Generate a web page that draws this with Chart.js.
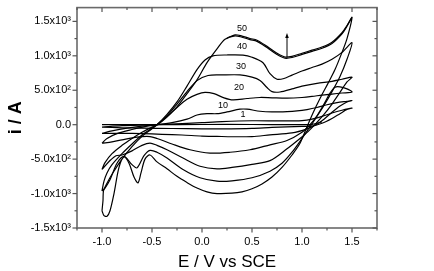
<!DOCTYPE html>
<html><head><meta charset="utf-8">
<script src="https://cdn.jsdelivr.net/npm/chart.js@4.4.1/dist/chart.umd.min.js"></script>
<style>html,body{margin:0;padding:0;background:#fff;}canvas{display:block;}</style>
</head><body>
<canvas id="c" width="434" height="271"></canvas>
<script>
// ---- data (E in V vs SCE, i in A) ----
const scanE = [-1.0,-0.5,0.0,0.5,0.9,1.1,1.2];
const scanI = [0,0,3,3,0,5,40];

const c1E = [-1.0,-0.8,-0.6,-0.45,-0.2,0,0.2,0.5,0.8,1.0,1.1,1.2,1.3,1.4,1.5, 1.45,1.38,1.3,1.2,1.1,1.0,0.7,0.5,0.2,0,-0.3,-0.6,-0.8,-1.0];
const c1I = [-35,-15,-5,0,15,30,45,57,55,60,80,120,170,210,240, 220,160,90,20,-20,-25,-40,-53,-60,-60,-55,-50,-45,-35];

const c10E = [-1.0,-0.9,-0.75,-0.6,-0.45,-0.3,-0.15,-0.05,0.05,0.15,0.25,0.38,0.45,0.58,0.7,0.85,0.95,1.05,1.15,1.25,1.35,1.45,1.5, 1.45,1.38,1.3,1.22,1.14,1.05,0.9,0.68,0.5,0.3,0.15,0,-0.2,-0.4,-0.6,-0.8,-1.0];
const c10I = [-125,-90,-50,-20,0,30,80,140,160,160,185,225,225,195,185,190,200,220,250,290,320,340,350, 330,270,180,80,0,-60,-120,-148,-172,-175,-170,-165,-150,-140,-130,-125,-125];

const c20E = [-1.0,-0.95,-0.85,-0.7,-0.55,-0.45,-0.35,-0.25,-0.15,-0.05,0.03,0.12,0.22,0.31,0.45,0.58,0.7,0.85,1.0,1.1,1.2,1.3,1.4,1.5, 1.45,1.38,1.33,1.28,1.22,1.15,1.08,1.0,0.85,0.68,0.48,0.28,0.08,-0.12,-0.3,-0.45,-0.52,-0.65,-0.8,-0.9,-1.0];
const c20I = [-268,-200,-130,-70,-20,0,110,250,370,440,470,450,390,360,380,395,390,385,395,410,430,445,460,474, 520,550,545,460,300,130,0,-110,-230,-292,-364,-400,-412,-364,-280,-200,-172,-180,-220,-250,-268];

const c30E = [-1.0,-0.97,-0.9,-0.8,-0.7,-0.6,-0.5,-0.45,-0.35,-0.25,-0.15,-0.05,0.06,0.2,0.38,0.5,0.58,0.65,0.7,0.78,0.9,1.0,1.15,1.3,1.4,1.5, 1.45,1.38,1.3,1.22,1.14,1.06,0.98,0.85,0.68,0.5,0.3,0.15,-0.02,-0.19,-0.35,-0.45,-0.52,-0.6,-0.7,-0.8,-0.86,-0.92,-1.0];
const c30I = [-650,-550,-420,-300,-200,-110,-35,0,130,300,480,640,714,722,723,690,642,540,480,475,520,560,600,630,660,690, 620,470,300,150,20,-100,-200,-350,-522,-575,-620,-642,-603,-484,-364,-300,-268,-300,-380,-440,-450,-520,-650];

const c40E = [-1.0,-0.98,-0.95,-0.9,-0.8,-0.7,-0.6,-0.5,-0.45,-0.35,-0.25,-0.15,-0.05,0.03,0.11,0.25,0.41,0.5,0.61,0.68,0.75,0.82,0.9,1.0,1.1,1.2,1.3,1.4,1.5, 1.45,1.38,1.3,1.22,1.14,1.07,1.0,0.9,0.8,0.68,0.5,0.3,0.15,-0.02,-0.19,-0.35,-0.45,-0.52,-0.58,-0.65,-0.7,-0.78,-0.85,-0.92,-0.97,-1.0];
const c40I = [-963,-820,-700,-580,-420,-280,-150,-50,0,150,330,560,800,940,1000,1012,1010,980,900,740,660,670,720,780,830,880,950,1050,1190, 950,700,480,280,100,-50,-200,-400,-560,-675,-771,-815,-820,-771,-651,-484,-400,-373,-450,-627,-580,-460,-560,-800,-920,-963];

const c50E = [-1.0,-0.99,-0.985,-0.95,-0.9,-0.8,-0.7,-0.6,-0.5,-0.45,-0.35,-0.25,-0.15,-0.05,0.05,0.15,0.23,0.33,0.4,0.48,0.55,0.65,0.75,0.83,0.9,1.0,1.1,1.2,1.3,1.4,1.45,1.5, 1.45,1.4,1.33,1.26,1.18,1.11,1.05,0.98,0.9,0.8,0.7,0.6,0.5,0.4,0.3,0.15,0.05,-0.05,-0.15,-0.25,-0.35,-0.45,-0.52,-0.57,-0.61,-0.64,-0.68,-0.73,-0.78,-0.83,-0.88,-0.92,-0.95,-0.98,-1.0];
const c50I = [-1250,-1100,-960,-850,-720,-500,-320,-170,-60,0,120,260,450,650,900,1100,1240,1290,1270,1235,1210,1120,1020,965,975,1020,1065,1110,1180,1320,1430,1560, 1250,1050,800,600,380,170,-30,-270,-440,-620,-760,-860,-930,-975,-995,-1000,-975,-920,-840,-750,-640,-540,-440,-500,-700,-845,-760,-560,-470,-620,-1000,-1250,-1330,-1320,-1250];

const c50bE = [0.25,0.33,0.4,0.48,0.55,0.65,0.75,0.83,0.9,1.0,1.1,1.2,1.3,1.4,1.45,1.5];
const c50bI = [1255,1305,1287,1252,1227,1137,1037,982,992,1037,1082,1127,1197,1335,1440,1560];

const labelText = ['50','40','30','20','10','1'];
const labelE = [0.40,0.40,0.39,0.37,0.21,0.41];
const labelI = [1394,1135,848,546,273,144];
const arrowE = 0.85, arrowFrom = 977, arrowTo = 1330;

const xTicks = [-1.25,-1.0,-0.75,-0.5,-0.25,0,0.25,0.5,0.75,1.0,1.25,1.5,1.75];
const xTickText = ['','-1.0','','-0.5','','0.0','','0.5','','1.0','','1.5',''];
const yTicks = [-1500,-1250,-1000,-750,-500,-250,0,250,500,750,1000,1250,1500];
const yTickText = ['-1.5x10\u00B3','','-1.0x10\u00B3','','-5.0x10\u00B2','','0.0','','5.0x10\u00B2','','1.0x10\u00B3','','1.5x10\u00B3'];

// ---- chart ----
function pts(E,I){return E.map((e,k)=>({x:e,y:I[k]}));}
const all = [[scanE,scanI],[c1E,c1I],[c10E,c10I],[c20E,c20I],[c30E,c30I],[c40E,c40I],[c50E,c50I],[c50bE,c50bI]];
const datasets = all.map(s=>({data:pts(s[0],s[1]),showLine:true,pointRadius:0,borderColor:'#000',borderWidth:1.2,tension:0.3,fill:false}));

const FONT = 'Liberation Sans, Arial, sans-serif';
const framePlugin = {
  id:'frame',
  afterDraw(chart){
    const {ctx, chartArea:a, scales:{x,y}} = chart;
    ctx.save();
    ctx.strokeStyle='#6a6a6a'; ctx.lineWidth=1.6;
    ctx.strokeRect(a.left,a.top,a.right-a.left,a.bottom-a.top);
    ctx.lineWidth=1.2; ctx.strokeStyle='#555';
    const ln=(x1,y1,x2,y2)=>{ctx.beginPath();ctx.moveTo(x1,y1);ctx.lineTo(x2,y2);ctx.stroke();};
    x.ticks.forEach((t,k)=>{
      const L=xTickText[k]?4.5:2.5; const px=x.getPixelForValue(t.value);
      ln(px,a.bottom,px,a.bottom+L); ln(px,a.top,px,a.top+L);
    });
    y.ticks.forEach((t,k)=>{
      const L=yTickText[k]?4.5:2.5; const py=y.getPixelForValue(t.value);
      ln(a.left-L,py,a.left,py); ln(a.right-L,py,a.right,py);
    });
    // labels
    ctx.fillStyle='#000'; ctx.font='9px '+FONT; ctx.textAlign='center'; ctx.textBaseline='middle';
    labelText.forEach((s,k)=>ctx.fillText(s,x.getPixelForValue(labelE[k]),y.getPixelForValue(labelI[k])));
    // arrow
    const ax=x.getPixelForValue(arrowE), y0=y.getPixelForValue(arrowFrom), y1=y.getPixelForValue(arrowTo);
    ctx.strokeStyle='#000'; ctx.lineWidth=1;
    ln(ax,y0,ax,y1+3);
    ctx.beginPath(); ctx.moveTo(ax,y1); ctx.lineTo(ax-1.8,y1+5); ctx.lineTo(ax+1.8,y1+5); ctx.closePath(); ctx.fill();
    ctx.restore();
  }
};

new Chart(document.getElementById('c'),{
  type:'scatter',
  data:{datasets},
  options:{
    responsive:false, animation:false, devicePixelRatio:1,
    layout:{padding:{top:5,right:57,left:0,bottom:0}},
    plugins:{legend:{display:false},tooltip:{enabled:false}},
    scales:{
      x:{type:'linear',min:-1.25,max:1.75,
        grid:{display:true,drawOnChartArea:false,drawTicks:true,tickLength:5,color:'rgba(0,0,0,0)'},
        border:{display:false},
        afterBuildTicks:s=>{s.ticks=xTicks.map(v=>({value:v}));},
        ticks:{autoSkip:false,maxRotation:0,padding:2,color:'#000',font:{family:FONT,size:11},
          callback:(v,k)=>xTickText[k]},
        title:{display:true,text:'E / V vs SCE',color:'#000',font:{family:FONT,size:17,lineHeight:1},padding:{top:0,bottom:0}},
        afterFit:s=>{s.height=43;}
      },
      y:{type:'linear',min:-1500,max:1700,
        grid:{display:true,drawOnChartArea:false,drawTicks:true,tickLength:5,color:'rgba(0,0,0,0)'},
        border:{display:false},
        afterBuildTicks:s=>{s.ticks=yTicks.map(v=>({value:v}));},
        ticks:{autoSkip:false,padding:1,color:'#000',font:{family:FONT,size:11},
          callback:(v,k)=>yTickText[k]},
        title:{display:true,text:'i / A',color:'#000',font:{family:FONT,size:18,weight:'bold',lineHeight:1.2},padding:{top:5.5,bottom:0}},
        afterFit:s=>{s.width=77;}
      }
    }
  },
  plugins:[framePlugin]
});
</script>
</body></html>
